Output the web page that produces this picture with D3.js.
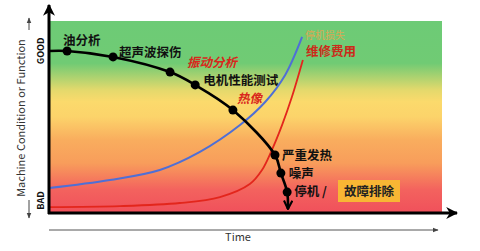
<!DOCTYPE html>
<html>
<head>
<meta charset="utf-8">
<script src="https://cdn.jsdelivr.net/npm/d3@7"></script>
<style>
  body { margin: 0; background: #fff; }
  text { font-family: "Noto Sans CJK SC", "Noto Sans", sans-serif; }
</style>
</head>
<body>
<div id="chart"></div>
<script>
// machine condition curve (time 0-100, condition 0-100)
const condTime = [0, 4.6, 16.3, 30.8, 37.2, 46.8, 57.5, 59.0, 60.6, 60.8];
const condValue = [84.4, 84.4, 81.3, 73.4, 66.7, 53.6, 30.2, 20.8, 10.9, 2.1];
const condLabels = ["", "油分析", "超声波探伤", "振动分析", "电机性能测试", "热像", "严重发热", "噪声", "停机 /", ""];
const redLabels = ["振动分析", "热像"];

// cost curves
const blueTime = [0, 15.5, 28.2, 38.4, 48.6, 55.0, 60.1, 64.4];
const blueValue = [13.0, 17.2, 22.4, 31.8, 45.8, 57.8, 71.9, 91.7];
const redTime = [0, 18.1, 33.3, 43.5, 51.1, 54.2, 56.7, 59.3, 61.8, 64.6];
const redValue = [3.1, 3.6, 5.2, 8.3, 15.1, 22.4, 32.8, 45.8, 60.4, 79.7];

const costLabels = ["停机损失", "维修费用"];
const repairLabel = "故障排除";
const axisLabels = ["GOOD", "BAD"];

// label offsets from their dot (px)
const labelOffset = {
  "油分析": [-4, -6], "超声波探伤": [6, 0], "振动分析": [17, -5],
  "电机性能测试": [8, 0], "热像": [4, -7], "严重发热": [7, 5],
  "噪声": [8, 5], "停机 /": [7, 4]
};

const W = 480, H = 251;
const svg = d3.select("#chart").append("svg")
  .attr("width", W).attr("height", H)
  .attr("viewBox", `0 0 ${W} ${H}`);

const x = d3.scaleLinear().domain([0, 100]).range([49, 442]);
const y = d3.scaleLinear().domain([0, 100]).range([213, 21]);

const defs = svg.append("defs");
const grad = defs.append("linearGradient").attr("id", "bg")
  .attr("x1", 0).attr("x2", 0).attr("y1", 0).attr("y2", 1);
[[0, "#6dcb76"], [0.22, "#70cb74"], [0.36, "#e4d96c"], [0.42, "#fbda6c"],
 [0.5, "#fcd36a"], [0.62, "#f9ad5e"], [0.74, "#f89d5b"], [0.88, "#f3625e"], [1, "#f0505b"]]
  .forEach(s => grad.append("stop").attr("offset", s[0]).attr("stop-color", s[1]));

defs.append("marker").attr("id", "head")
  .attr("viewBox", "0 0 10 10").attr("refX", 9).attr("refY", 5)
  .attr("markerWidth", 4).attr("markerHeight", 4).attr("orient", "auto")
  .append("path").attr("d", "M0,0L10,5L0,10L3,5Z").attr("fill", "#000");

defs.append("marker").attr("id", "vhead")
  .attr("viewBox", "0 0 10 10").attr("refX", 9).attr("refY", 5)
  .attr("markerWidth", 4).attr("markerHeight", 4).attr("orient", "auto")
  .append("path").attr("d", "M1,1L9,5L1,9").attr("fill", "none")
  .attr("stroke", "#000").attr("stroke-width", 2);

defs.append("marker").attr("id", "thin")
  .attr("viewBox", "0 0 10 10").attr("refX", 9).attr("refY", 5)
  .attr("markerWidth", 6).attr("markerHeight", 6).attr("orient", "auto")
  .append("path").attr("d", "M0,1L10,5L0,9Z").attr("fill", "#444");

// background
svg.append("rect")
  .attr("x", x(0)).attr("y", y(100))
  .attr("width", x(100) - x(0)).attr("height", y(0) - y(100))
  .attr("fill", "url(#bg)");

const line = d3.line().x(d => x(d[0])).y(d => y(d[1])).curve(d3.curveCatmullRom);

// cost curves
svg.append("path").datum(d3.zip(blueTime, blueValue))
  .attr("d", line).attr("fill", "none")
  .attr("stroke", "#4f6fd6").attr("stroke-width", 2);
svg.append("path").datum(d3.zip(redTime, redValue))
  .attr("d", line).attr("fill", "none")
  .attr("stroke", "#e3261c").attr("stroke-width", 1.8);

// axes
svg.append("line")
  .attr("x1", x(0)).attr("x2", x(0)).attr("y1", y(0) + 1).attr("y2", 5)
  .attr("stroke", "#000").attr("stroke-width", 3).attr("marker-end", "url(#head)");
svg.append("line")
  .attr("x1", x(0) - 1).attr("x2", 457).attr("y1", y(0)).attr("y2", y(0))
  .attr("stroke", "#000").attr("stroke-width", 3).attr("marker-end", "url(#head)");

// condition curve
const cond = d3.zip(condTime, condValue);
svg.append("path").datum(cond)
  .attr("d", line).attr("fill", "none")
  .attr("stroke", "#000").attr("stroke-width", 2.6)
  .attr("marker-end", "url(#vhead)");

const pts = cond.map((d, i) => ({ t: d[0], v: d[1], label: condLabels[i] }))
  .filter(d => d.label);

svg.append("g").selectAll("circle").data(pts).join("circle")
  .attr("cx", d => x(d.t)).attr("cy", d => y(d.v)).attr("r", 4.5).attr("fill", "#000");

svg.append("g").selectAll("text").data(pts).join("text")
  .attr("x", d => x(d.t) + labelOffset[d.label][0])
  .attr("y", d => y(d.v) + labelOffset[d.label][1])
  .attr("font-size", 12.5).attr("font-weight", "bold")
  .attr("font-style", d => redLabels.includes(d.label) ? "italic" : "normal")
  .attr("fill", d => redLabels.includes(d.label) ? "#d9281c" : "#111")
  .text(d => d.label);

// cost labels
svg.append("text").attr("x", 305).attr("y", 39)
  .attr("font-size", 10).attr("fill", "#f4a04a").attr("opacity", 0.8).text(costLabels[0]);
svg.append("text").attr("x", 306).attr("y", 56)
  .attr("font-size", 12.5).attr("font-weight", "bold").attr("fill", "#cc2a1a").text(costLabels[1]);

// repair box
svg.append("rect").attr("x", 338).attr("y", 180).attr("width", 62).attr("height", 22)
  .attr("fill", "#f8b634");
svg.append("text").attr("x", 369).attr("y", 196).attr("text-anchor", "middle")
  .attr("font-size", 12.5).attr("font-weight", "bold").attr("fill", "#222").text(repairLabel);

// y labels
svg.append("text").attr("transform", `translate(44,${y(84.4)}) rotate(-90)`)
  .attr("text-anchor", "middle").attr("font-size", 9).attr("font-weight", "bold")
  .attr("fill", "#111").text(axisLabels[0]);
svg.append("text").attr("transform", `translate(44,${y(6.5)}) rotate(-90)`)
  .attr("text-anchor", "middle").attr("font-size", 9).attr("font-weight", "bold")
  .attr("fill", "#111").text(axisLabels[1]);

svg.append("text").attr("transform", "translate(25,118) rotate(-90)")
  .attr("text-anchor", "middle").attr("font-size", 11).attr("fill", "#333")
  .attr("font-family", "Open Sans, sans-serif")
  .text("Machine Condition or Function");
svg.append("line").attr("x1", 29).attr("x2", 29).attr("y1", 30).attr("y2", 18)
  .attr("stroke", "#444").attr("stroke-width", 1).attr("marker-end", "url(#thin)");
svg.append("line").attr("x1", 29).attr("x2", 29).attr("y1", 200).attr("y2", 218)
  .attr("stroke", "#444").attr("stroke-width", 1).attr("marker-end", "url(#thin)");

// time axis
svg.append("line").attr("x1", x(0)).attr("x2", 438).attr("y1", 230).attr("y2", 230)
  .attr("stroke", "#555").attr("stroke-width", 1).attr("marker-end", "url(#thin)");
svg.append("text").attr("x", 238).attr("y", 241).attr("text-anchor", "middle")
  .attr("font-size", 11).attr("fill", "#333")
  .attr("font-family", "Open Sans, sans-serif").text("Time");
</script>
</body>
</html>
